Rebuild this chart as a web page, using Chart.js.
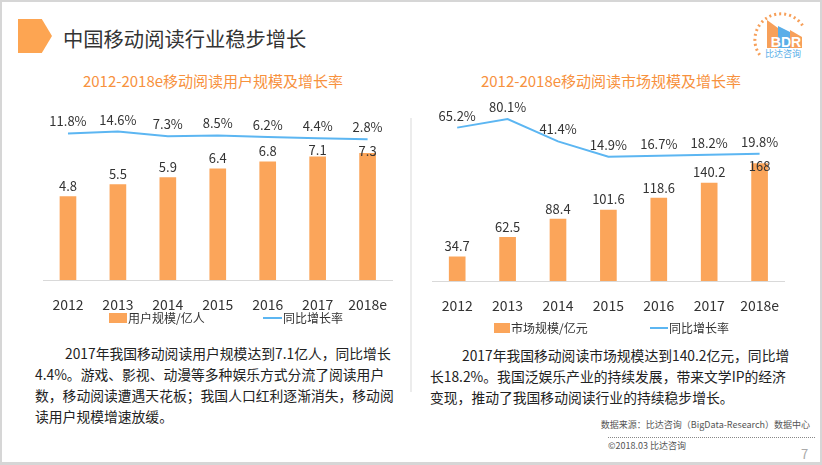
<!DOCTYPE html>
<html>
<head>
<meta charset="utf-8">
<script src="https://cdn.jsdelivr.net/npm/chart.js@4.4.1/dist/chart.umd.min.js"></script>
<style>
html, body { margin: 0; padding: 0; }
body {
    width: 822px; height: 465px; position: relative; overflow: hidden; background: #fff;
    font-family: "Noto Sans CJK SC", "Microsoft YaHei", sans-serif; color: #333;
}
.abs { position: absolute; }
.frame { left: 0; top: 0; width: 818px; height: 460px; border: 2px solid #d6d6d6; border-bottom-width: 3px; }
.tag { left: 18px; top: 19px; width: 34px; height: 34px; background: #fda552;
       clip-path: polygon(0 0, 70% 0, 100% 50%, 70% 100%, 0 100%); }
.title { left: 63px; top: 26px; font-size: 20.3px; line-height: 24px; color: #333; white-space: nowrap; }
.sub { width: 400px; text-align: center; font-size: 15px; line-height: 22px; color: #f7913d; white-space: nowrap; }
.sep { left: 410px; top: 118px; width: 2px; height: 274px; background: #ececec; }
.lg { font-size: 12px; line-height: 16px; white-space: nowrap; color: #333; }
.para { font-size: 13.8px; line-height: 21px; color: #222; white-space: nowrap; }
.small { font-size: 9px; line-height: 14px; color: #555; white-space: nowrap; }
.dots { left: 608px; top: 437px; width: 208px; height: 1px;
        background: repeating-linear-gradient(to right, #888 0 1px, transparent 1px 2px); }
</style>
</head>
<body>
<div class="abs frame"></div>
<div class="abs tag"></div>
<div class="abs title">中国移动阅读行业稳步增长</div>

<svg class="abs" style="left:0;top:0" width="822" height="70">
    <path d="M 759.7 54.9 A 26 26 0 1 1 803.5 27" fill="none" stroke="#f7a05a" stroke-width="3" stroke-dasharray="2 3"/>
    <polygon points="767,20 778,28 778,48 767,48" fill="#f7a05a"/>
    <polygon points="778,26 790,32 790,48 778,48" fill="#5aaee8"/>
    <polygon points="790,30 802,37 802,48 790,48" fill="#f7a05a"/>
    <text x="786" y="46.5" text-anchor="middle" font-family="Liberation Sans, Arial" font-weight="bold" font-size="14" fill="#fff">BDR</text>
    <text x="783" y="57" text-anchor="middle" font-family="Noto Sans CJK SC" font-size="9" fill="#5aaee8">比达咨询</text>
</svg>

<div class="abs sub" style="left:13px;top:70px">2012-2018e移动阅读用户规模及增长率</div>
<div class="abs sub" style="left:411px;top:70px">2012-2018e移动阅读市场规模及增长率</div>
<div class="abs sep"></div>

<canvas id="userChart" class="abs" style="left:43px;top:95px" width="352" height="215"></canvas>
<canvas id="marketChart" class="abs" style="left:432px;top:95px" width="355" height="216"></canvas>

<div class="abs" style="left:109px;top:313px;width:18px;height:10px;background:#fba55a"></div>
<div class="abs lg" style="left:128px;top:310px">用户规模/亿人</div>
<div class="abs" style="left:263px;top:317px;width:19px;height:2px;background:#5cb6f2"></div>
<div class="abs lg" style="left:283px;top:310px">同比增长率</div>

<div class="abs" style="left:494px;top:323px;width:16px;height:10px;background:#fba55a"></div>
<div class="abs lg" style="left:511px;top:320px">市场规模/亿元</div>
<div class="abs" style="left:650px;top:327px;width:18px;height:2px;background:#5cb6f2"></div>
<div class="abs lg" style="left:669px;top:320px">同比增长率</div>

<div class="abs para" style="left:35px;top:343px">
<span style="padding-left:30px"></span>2017年我国移动阅读用户规模达到7.1亿人，同比增长<br>
4.4%。游戏、影视、动漫等多种娱乐方式分流了阅读用户<br>
数，移动阅读遭遇天花板；我国人口红利逐渐消失，移动阅<br>
读用户规模增速放缓。
</div>
<div class="abs para" style="left:430px;top:345px">
<span style="padding-left:32px"></span>2017年我国移动阅读市场规模达到140.2亿元，同比增<br>
长18.2%。我国泛娱乐产业的持续发展，带来文学IP的经济<br>
变现，推动了我国移动阅读行业的持续稳步增长。
</div>

<div class="abs small" style="right:12px;top:418px">数据来源：比达咨询（BigData-Research）数据中心</div>
<div class="abs dots"></div>
<div class="abs small" style="left:608px;top:439px">©2018.03 比达咨询</div>
<div class="abs" style="left:801px;top:446px;font-size:13px;line-height:16px;color:#aaa">7</div>

<script>
// ================================
// DATA
// ================================

const years = ['2012', '2013', '2014', '2015', '2016', '2017', '2018e'];

// 用户规模（亿人）及同比增长率（%）
const userScale = [4.8, 5.5, 5.9, 6.4, 6.8, 7.1, 7.3];
const userGrowth = [11.8, 14.6, 7.3, 8.5, 6.2, 4.4, 2.8];

// 市场规模（亿元）及同比增长率（%）
const marketScale = [34.7, 62.5, 88.4, 101.6, 118.6, 140.2, 168];
const marketGrowth = [65.2, 80.1, 41.4, 14.9, 16.7, 18.2, 19.8];

const BAR_COLOR = '#fba55a';
const LINE_COLOR = '#5cb6f2';
const FONT = '"Noto Sans CJK SC", "Microsoft YaHei", sans-serif';

// value labels above bars and line points
const valueLabels = {
    id: 'valueLabels',
    afterDatasetsDraw(chart) {
        const ctx = chart.ctx;
        const bars = chart.getDatasetMeta(0).data;
        const points = chart.getDatasetMeta(1).data;
        const barData = chart.data.datasets[0].data;
        const lineData = chart.data.datasets[1].data;

        ctx.save();
        ctx.font = '13px ' + FONT;
        ctx.fillStyle = '#333';
        ctx.textAlign = 'center';
        ctx.textBaseline = 'middle';

        points.forEach((pt, i) => {
            ctx.fillText(lineData[i].toFixed(1) + '%', pt.x, pt.y - 12);
        });
        bars.forEach((bar, i) => {
            // keep bar label under the line label when they would collide
            const y = Math.max(bar.y - 10.5, points[i].y + 12);
            ctx.fillText(String(barData[i]), bar.x, y);
        });
        ctx.restore();
    }
};

function makeChart(id, barLabel, bars, growth, barMax, lineMin, lineMax) {
    const ctx = document.getElementById(id);
    return new Chart(ctx, {
        type: 'bar',
        data: {
            labels: years,
            datasets: [
                {
                    label: barLabel,
                    data: bars,
                    backgroundColor: BAR_COLOR,
                    barThickness: 16,
                    yAxisID: 'y',
                    order: 2
                },
                {
                    type: 'line',
                    label: '同比增长率',
                    data: growth,
                    borderColor: LINE_COLOR,
                    borderWidth: 2,
                    pointRadius: 0,
                    tension: 0,
                    fill: false,
                    yAxisID: 'y1',
                    order: 1
                }
            ]
        },
        options: {
            responsive: false,
            animation: false,
            devicePixelRatio: 1,
            layout: { padding: { top: 15, left: 0, right: 0, bottom: 0 } },
            plugins: {
                legend: { display: false },
                tooltip: { enabled: false }
            },
            scales: {
                x: {
                    grid: { display: false },
                    border: { display: true, color: '#d9d9d9', width: 1 },
                    ticks: {
                        color: '#333',
                        padding: 8,
                        maxRotation: 0,
                        autoSkip: false,
                        font: { family: FONT, size: 14 }
                    },
                    afterFit(scale) { scale.height = 30; }
                },
                y: {
                    display: false,
                    min: 0,
                    max: barMax
                },
                y1: {
                    display: false,
                    min: lineMin,
                    max: lineMax
                }
            }
        },
        plugins: [valueLabels]
    });
}

makeChart('userChart', '用户规模/亿人', userScale, userGrowth, 9.79, -215.5, 48.1);
makeChart('marketChart', '市场规模/亿元', marketScale, marketGrowth, 244.6, -200.2, 95.7);
</script>
</body>
</html>
